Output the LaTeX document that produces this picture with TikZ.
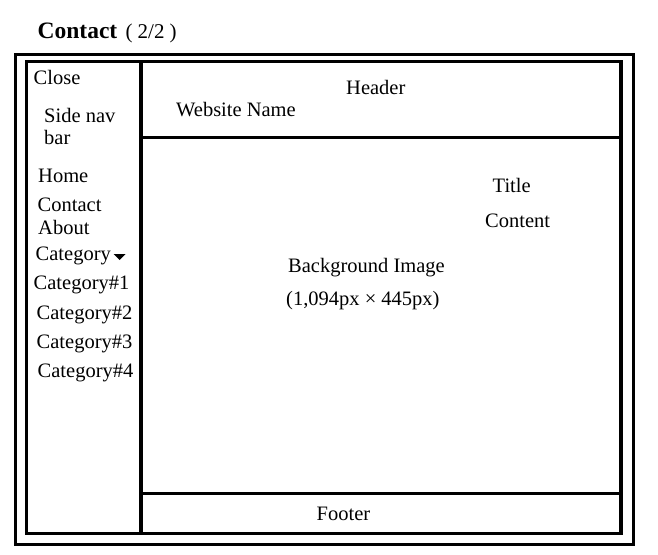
\documentclass[tikz,border=0pt]{standalone}
\usepackage{fontspec}
\setmainfont{Liberation Serif}
\begin{document}
\begin{tikzpicture}[x=1pt,y=1pt,
  frame/.style={draw=black,line width=3.3pt},
  lbl/.style={inner sep=0pt,anchor=base west,font=\fontsize{20.5}{24}\selectfont}]
\useasboundingbox (0,0) rectangle (658,-554);
\fill[white] (0,0) rectangle (658,-554);

% page title
\node[lbl,font=\fontsize{23.5}{27}\bfseries\selectfont] (title) at (37.5,-38.5) {Contact};
\node[lbl,font=\fontsize{21}{25}\selectfont] (page) at (125.5,-38.5) {(\hspace{5pt}2/2\hspace{5pt})};

% outer and inner frames
\draw[frame] (15.5,-54.5) rectangle (633.5,-544.5);
\draw[frame] (26.5,-61.5) rectangle (621,-533.5);
% side bar divider, header and footer rules
\draw[frame] (141,-61.5) -- (141,-533.5);
\draw[frame] (141,-137.5) -- (621,-137.5);
\draw[frame] (141,-493.5) -- (621,-493.5);

% side navigation
\node[lbl] (close) at (33.5,-84) {Close};
\node[lbl] (sidenav) at (44,-122) {Side nav};
\node[lbl] (bar) at (44,-144) {bar};
\node[lbl] (home) at (38,-182.5) {Home};
\node[lbl] (contact) at (37.5,-211) {Contact};
\node[lbl] (about) at (38,-234.5) {About};
\node[lbl] (cat) at (35.5,-260.5) {Category};
\fill (cat.base east) ++(2.5,6.5) coordinate (tri) -- ++(12,0) -- ++(-6,-6) -- cycle;
\node[lbl] (cat1) at (33.5,-289.5) {Category\#1};
\node[lbl] (cat2) at (36.5,-319.5) {Category\#2};
\node[lbl] (cat3) at (36.5,-348.5) {Category\#3};
\node[lbl] (cat4) at (37.5,-377.5) {Category\#4};

% header
\node[lbl] (header) at (346,-94.5) {Header};
\node[lbl] (site) at (176,-116.5) {Website Name};

% main content area
\node[lbl] (ttl) at (492.5,-192.5) {Title};
\node[lbl] (content) at (485,-227.5) {Content};
\node[lbl] (bg) at (288,-272) {Background Image};
\node[lbl] (size) at (286,-305) {(1,094px × 445px)};

% footer
\node[lbl] (footer) at (316.5,-520.5) {Footer};
\end{tikzpicture}
\end{document}
